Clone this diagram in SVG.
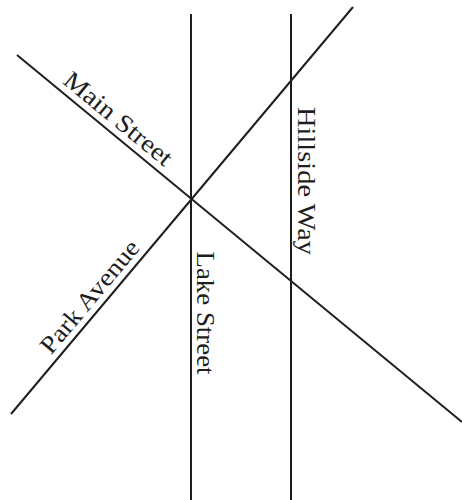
<svg xmlns="http://www.w3.org/2000/svg" width="462" height="500" viewBox="0 0 462 500">
<style>
.road{stroke:#1e1e1e;stroke-width:2;fill:none}
.lbl{font-family:"Liberation Serif","Times New Roman",serif;font-size:25px;fill:#1e1e1e;text-anchor:middle}
</style>
<rect width="462" height="500" fill="#fff"/>
<g id="connectors">
<line class="road" x1="17" y1="55" x2="462" y2="422"/>
<line class="road" x1="11" y1="414" x2="353" y2="7"/>
<line class="road" x1="191" y1="14" x2="191" y2="500"/>
<line class="road" x1="291" y1="14" x2="291" y2="500"/>
</g>
<g id="main-street"><text class="lbl" transform="translate(113,125) rotate(39.5)" textLength="133" lengthAdjust="spacingAndGlyphs">Main Street</text></g>
<g id="park-avenue"><text class="lbl" transform="translate(96,302) rotate(-50)" textLength="140" lengthAdjust="spacingAndGlyphs">Park Avenue</text></g>
<g id="lake-street"><text class="lbl" transform="translate(197,313) rotate(90)" textLength="123" lengthAdjust="spacingAndGlyphs">Lake Street</text></g>
<g id="hillside-way"><text class="lbl" transform="translate(298,181) rotate(90)" textLength="148" lengthAdjust="spacingAndGlyphs">Hillside Way</text></g>
</svg>
